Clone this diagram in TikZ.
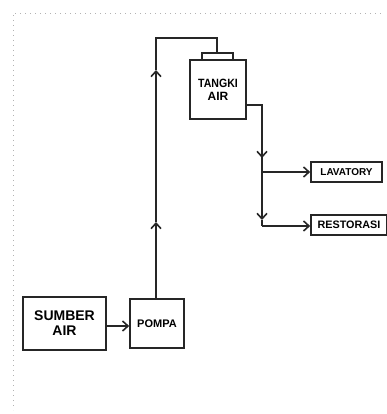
\documentclass[tikz,border=0pt]{standalone}
\usepackage{fontspec}
\setmainfont{Liberation Sans}
\usetikzlibrary{arrows.meta}
\tikzset{
  box/.style={draw=black!85, line width=1.6pt, inner sep=0pt, align=center, font=\bfseries\fontsize{11}{12}\selectfont},
  flow/.style={draw=black!85, line width=1.6pt},
  tip/.style={flow, -{Straight Barb[length=5.5pt,width=10pt,line width=1.6pt]}},
  scan/.style={draw=black!30, line width=0.5pt, dash pattern=on 1pt off 4pt}
}
\begin{document}
\begin{tikzpicture}[x=1pt,y=-1pt]
\useasboundingbox (0,0) rectangle (386,414);
% faint scan border
\draw[scan] (15,13) -- (382,13);
\draw[scan] (13,15) -- (13,410);
% boxes
\node[box, minimum width=83pt, minimum height=53pt, font=\bfseries\fontsize{14}{15}\selectfont] (sumber) at (64.5,323.5) {SUMBER\\AIR};
\node[box, minimum width=54pt, minimum height=49pt, font=\bfseries\fontsize{11}{12}\selectfont] (pompa) at (157,323.5) {POMPA};
\node[box, minimum width=56pt, minimum height=59pt, font=\bfseries\fontsize{12}{13}\selectfont] (tangki) at (218,89.5) {\scalebox{0.88}[1]{TANGKI}\\AIR};
\node[box, minimum width=31pt, minimum height=7pt] (cap) at (217.5,56.5) {};
\node[box, minimum width=71pt, minimum height=20pt, font=\bfseries\fontsize{10}{11}\selectfont] (lav) at (346.5,172) {LAVATORY};
\node[box, minimum width=76pt, minimum height=20pt, font=\bfseries\fontsize{10.8}{12}\selectfont] (rest) at (349,225) {RESTORASI};
% coordinates
\coordinate (p1) at (156,222);
\coordinate (p2) at (156,70);
\coordinate (top) at (156,38);
\coordinate (capin) at (217,38);
\coordinate (out) at (246,105);
\coordinate (v1) at (262,105);
\coordinate (v2) at (262,158);
\coordinate (v3) at (262,172);
\coordinate (v4) at (262,220);
\coordinate (v5) at (262,226);
% connectors
\draw[tip] (sumber.east |- 0,326) -- (pompa.west |- 0,326);
\draw[tip] (pompa.north -| 156,0) -- (p1);
\draw[tip] (p1) -- (p2);
\draw[flow] (p2) -- (top) -- (capin) -- (cap.north -| capin);
\draw[flow] (out) -- (v1) -- (v2);
\draw[tip] (v1) -- (v2);
\draw[flow] (v2) -- (v3);
\draw[tip] (v3) -- (v4);
\draw[flow] (v4) -- (v5);
\draw[tip] (v3) -- (lav.west);
\draw[tip] (v5) -- (rest.west |- v5);
\end{tikzpicture}
\end{document}
